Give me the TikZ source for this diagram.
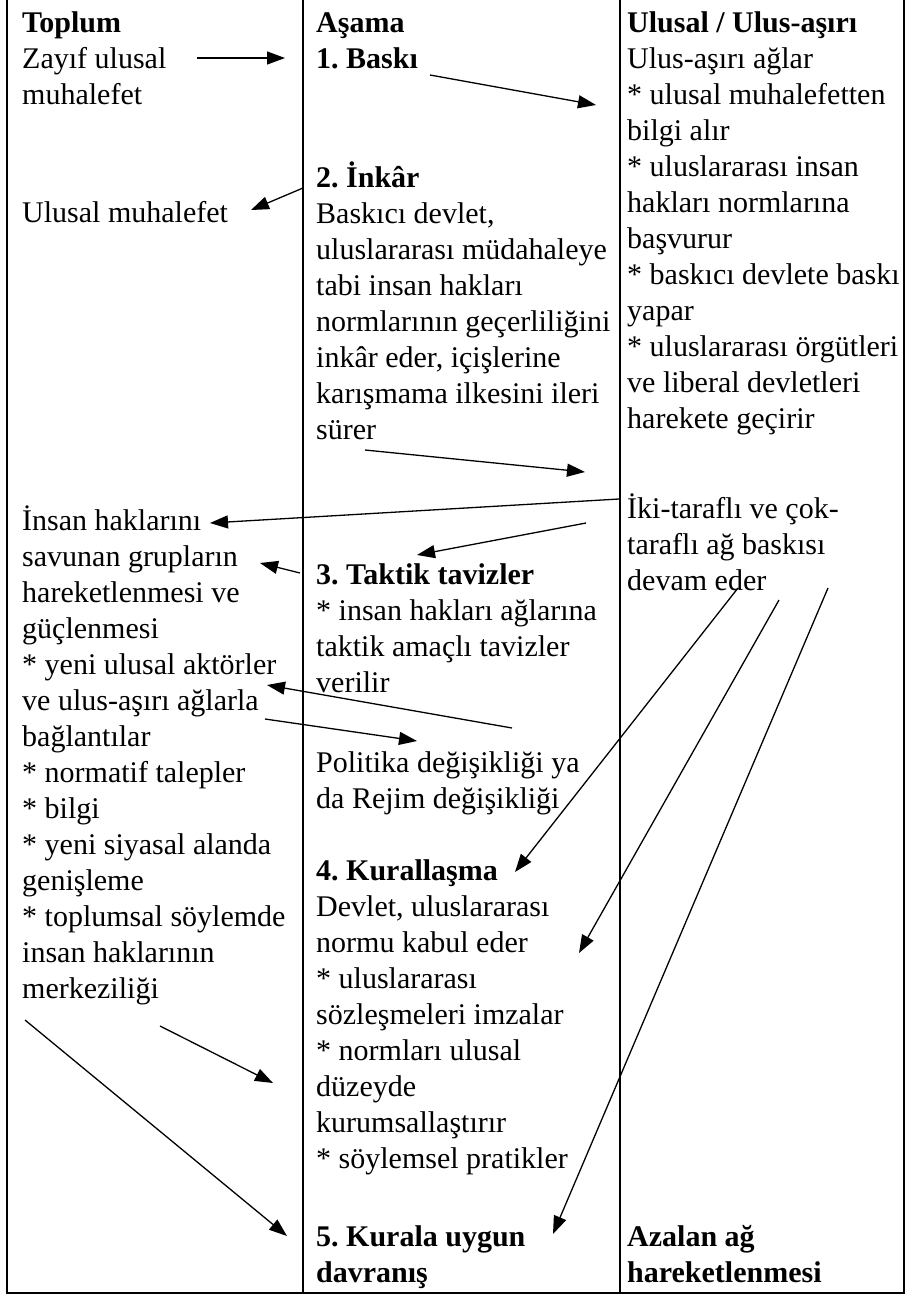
\documentclass[tikz,border=0pt]{standalone}
\usepackage{fontspec}
\setmainfont{Liberation Serif}
\usetikzlibrary{arrows.meta}
\frenchspacing
\newcommand\cellstrut{\rule{0pt}{27pt}}
\tikzset{
  cell/.style={anchor=north west, align=left, inner sep=0pt, font=\fontsize{30}{36}\selectfont},
  head/.style={cell, font=\fontsize{30}{36}\selectfont\bfseries},
  flow/.style={-{Triangle[length=18pt,width=13pt]}, line width=1.3pt},
}
\begin{document}
\begin{tikzpicture}[x=1pt,y=-1pt]
  \useasboundingbox (0,0) rectangle (907,1299);
  \draw[line width=1.8pt]
    (7,0) -- (7,1293) (303,0) -- (303,1293)
    (620,0) -- (620,1293) (904,0) -- (904,1293);
  \draw[line width=2.6pt] (6,1293) -- (905,1293);

  \node[head] (toplum) at (22,5) {\cellstrut Toplum};
  \node[head] (asama) at (316,5) {\cellstrut Aşama};
  \node[head] (ulusal) at (627,5) {\cellstrut Ulusal / Ulus-aşırı};

  \node[cell] (zayif) at (22,41) {\cellstrut Zayıf ulusal\\muhalefet};
  \node[cell] (ulmuh) at (22,195) {\cellstrut Ulusal muhalefet};
  \node[cell] (insan) at (22,503) {\cellstrut İnsan haklarını\\savunan grupların\\hareketlenmesi ve\\güçlenmesi\\* yeni ulusal aktörler\\ve ulus-aşırı ağlarla\\bağlantılar\\* normatif talepler\\* bilgi\\* yeni siyasal alanda\\genişleme\\* toplumsal söylemde\\insan haklarının\\merkeziliği};

  \node[head] (baski) at (316,41) {\cellstrut 1. Baskı};
  \node[cell] (inkar) at (316,160) {\cellstrut\textbf{2. İnkâr}\\Baskıcı devlet,\\uluslararası müdahaleye\\tabi insan hakları\\normlarının geçerliliğini\\inkâr eder, içişlerine\\karışmama ilkesini ileri\\sürer};
  \node[cell] (taktik) at (316,557) {\cellstrut\textbf{3. Taktik tavizler}\\* insan hakları ağlarına\\taktik amaçlı tavizler\\verilir};
  \node[cell] (politika) at (316,745) {\cellstrut Politika değişikliği ya\\da Rejim değişikliği};
  \node[cell] (kural) at (316,853) {\cellstrut\textbf{4. Kurallaşma}\\Devlet, uluslararası\\normu kabul eder\\* uluslararası\\sözleşmeleri imzalar\\* normları ulusal\\düzeyde\\kurumsallaştırır\\* söylemsel pratikler};
  \node[head] (uygun) at (316,1219) {\cellstrut 5. Kurala uygun\\davranış};

  \node[cell] (aglar) at (627,41) {\cellstrut Ulus-aşırı ağlar\\* ulusal muhalefetten\\bilgi alır\\* uluslararası insan\\hakları normlarına\\başvurur\\* baskıcı devlete baskı\\yapar\\* uluslararası örgütleri\\ve liberal devletleri\\harekete geçirir};
  \node[cell] (ikitaraf) at (627,491) {\cellstrut İki-taraflı ve çok-\\taraflı ağ baskısı\\devam eder};
  \node[head] (azalan) at (627,1219) {\cellstrut Azalan ağ\\hareketlenmesi};

  \coordinate (zayif-out) at (197,58);
  \coordinate (baski-in) at (285,58);
  \coordinate (baski-out) at (430,75);
  \coordinate (aglar-in) at (596,105);
  \coordinate (inkar-out) at (303,188);
  \coordinate (ulmuh-in) at (251,210);
  \coordinate (surer-out) at (365,450);
  \coordinate (ikitaraf-in) at (585,472);
  \coordinate (ikitaraf-out) at (619,499);
  \coordinate (insan-in) at (210,523);
  \coordinate (ikitaraf-out2) at (586,523);
  \coordinate (taktik-in) at (417,555);
  \coordinate (taktik-out) at (300,573);
  \coordinate (savunan-in) at (260,563);
  \coordinate (politika-out) at (512,728);
  \coordinate (aktor-in) at (267,685);
  \coordinate (baglanti-out) at (265,719);
  \coordinate (politika-in) at (417,741);
  \coordinate (devam-a) at (738,588);
  \coordinate (kural-in) at (515,872);
  \coordinate (devam-b) at (779,600);
  \coordinate (kabul-in) at (579,953);
  \coordinate (devam-c) at (828,588);
  \coordinate (uygun-in) at (553,1234);
  \coordinate (merkez-a) at (160,1026);
  \coordinate (duzey-in) at (273,1083);
  \coordinate (merkez-b) at (25,1020);
  \coordinate (uygun-in2) at (287,1236);

  \begin{scope}[flow]
    \draw (zayif-out) -- (baski-in);
    \draw (baski-out) -- (aglar-in);
    \draw (inkar-out) -- (ulmuh-in);
    \draw (surer-out) -- (ikitaraf-in);
    \draw (ikitaraf-out) -- (insan-in);
    \draw (ikitaraf-out2) -- (taktik-in);
    \draw (taktik-out) -- (savunan-in);
    \draw (politika-out) -- (aktor-in);
    \draw (baglanti-out) -- (politika-in);
    \draw (devam-a) -- (kural-in);
    \draw (devam-b) -- (kabul-in);
    \draw (devam-c) -- (uygun-in);
    \draw (merkez-a) -- (duzey-in);
    \draw (merkez-b) -- (uygun-in2);
  \end{scope}
\end{tikzpicture}
\end{document}
